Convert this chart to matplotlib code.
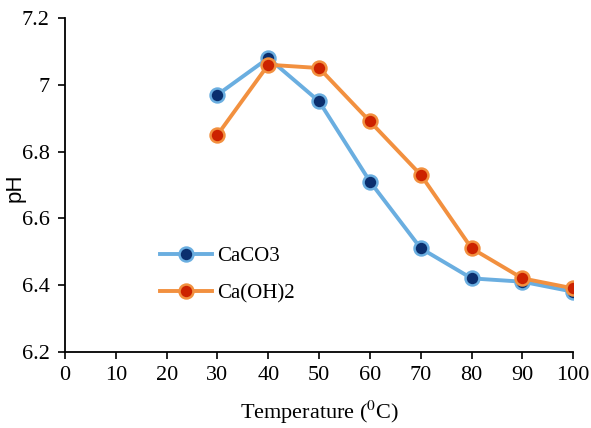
import matplotlib.pyplot as plt

# data
temps = [30, 40, 50, 60, 70, 80, 90, 100]
caco3 = [6.97, 7.08, 6.95, 6.71, 6.51, 6.42, 6.41, 6.38]
caoh2 = [6.85, 7.06, 7.05, 6.89, 6.73, 6.51, 6.42, 6.39]
xticks = [0, 10, 20, 30, 40, 50, 60, 70, 80, 90, 100]
yticks = [6.2, 6.4, 6.6, 6.8, 7.0, 7.2]
ytick_labels = ["6.2", "6.4", "6.6", "6.8", "7", "7.2"]

BLUE_LINE = "#6aaee0"
BLUE_FILL = "#0b2f6e"
ORANGE_LINE = "#f2903f"
ORANGE_FILL = "#cc2200"

plt.rcParams["font.family"] = "Liberation Serif"
plt.rcParams["mathtext.fontset"] = "stix"


def main():
    fig = plt.figure(figsize=(5.91, 4.28), dpi=100)
    ax = fig.add_axes([0.110, 0.178, 0.860, 0.780])

    ax.plot(temps, caco3, color=BLUE_LINE, lw=2.8, marker="o", ms=10,
            mfc=BLUE_FILL, mec=BLUE_LINE, mew=1.8, label="CaCO3", zorder=3)
    ax.plot(temps, caoh2, color=ORANGE_LINE, lw=2.8, marker="o", ms=10,
            mfc=ORANGE_FILL, mec=ORANGE_LINE, mew=1.8, label="Ca(OH)2", zorder=4)

    ax.set_xlim(0, 100)
    ax.set_ylim(6.2, 7.2)
    ax.set_xticks(xticks)
    ax.set_yticks(yticks)
    ax.set_yticklabels(ytick_labels)
    ax.tick_params(labelsize=16, length=5, width=1.2, direction="out", colors="black")
    ax.tick_params(axis="x", pad=5)
    ax.tick_params(axis="y", pad=6)

    for side in ("top", "right"):
        ax.spines[side].set_visible(False)
    for side in ("left", "bottom"):
        ax.spines[side].set_linewidth(1.3)

    # label sits over the tick-label column, as in the source chart
    ax.set_ylabel("pH", fontsize=16, fontfamily="Liberation Sans")
    ax.yaxis.set_label_coords(-0.077, 0.49)
    ax.set_xlabel("Temperature ($^{0}$C)", fontsize=16, labelpad=10)

    ax.legend(loc="upper left", bbox_to_anchor=(0.17, 0.34), frameon=False,
              fontsize=15, handlelength=2.5, handletextpad=0.25, labelspacing=0.85,
              borderaxespad=0)

    fig.savefig("out.png", dpi=100)


if __name__ == "__main__":
    main()
